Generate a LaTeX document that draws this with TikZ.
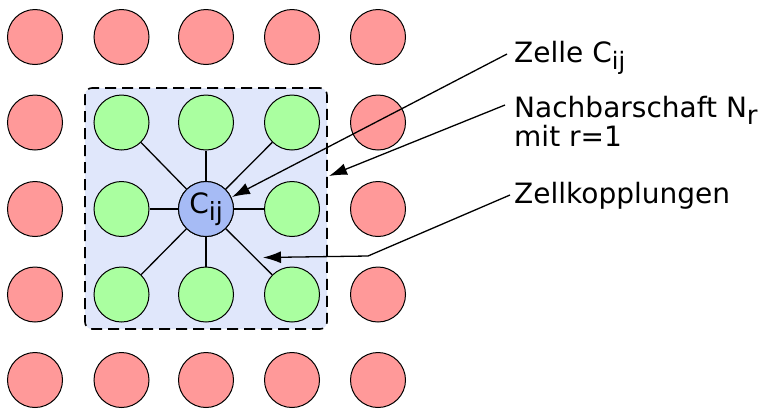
\documentclass[tikz,border=0pt]{standalone}
\usepackage{fontspec}
\setmainfont{DejaVu Sans}
\usetikzlibrary{arrows.meta}
\definecolor{cred}{HTML}{FF9999}
\definecolor{cgreen}{HTML}{AAFFA0}
\definecolor{cblue}{HTML}{A6BBF5}
\definecolor{cbox}{HTML}{E0E7FB}
\newcommand{\subtxt}[2]{\raisebox{-7pt}{\fontsize{#1}{#1}\selectfont #2}}
\begin{document}
\begin{tikzpicture}[x=1pt,y=-1pt,
  cell/.style={circle,draw=black,line width=1pt,minimum size=55pt,inner sep=0pt},
  outer/.style={cell,fill=cred},
  neigh/.style={cell,fill=cgreen},
  centre/.style={cell,fill=cblue,font=\fontsize{28}{34}\selectfont},
  nbox/.style={draw=black,fill=cbox,line width=1.6pt,dash pattern=on 11pt off 6pt,rounded corners=7pt,minimum width=242pt,minimum height=241pt,inner sep=0pt},
  coup/.style={line width=1.3pt},
  lbl/.style={anchor=base west,inner sep=0pt,font=\fontsize{28}{34}\selectfont},
  pointer/.style={line width=1.3pt,-{Latex[length=18pt,width=12pt]}}]
\useasboundingbox (0,0) rectangle (767,408);
% neighbourhood box
\node[nbox] (nbhd) at (206,208.5) {};
% cells
\foreach \cx [count=\i] in {35,121.5,206,292,378}{
  \foreach \cy [count=\j] in {37,122.5,209,294.5,380}{
    \ifnum\i>1 \ifnum\i<5 \ifnum\j>1 \ifnum\j<5
      \node[neigh] (c-\i-\j) at (\cx,\cy) {};
    \else \node[outer] (c-\i-\j) at (\cx,\cy) {}; \fi
    \else \node[outer] (c-\i-\j) at (\cx,\cy) {}; \fi
    \else \node[outer] (c-\i-\j) at (\cx,\cy) {}; \fi
    \else \node[outer] (c-\i-\j) at (\cx,\cy) {}; \fi
  }
}
\node[centre] (cij) at (206,209) {C\subtxt{25}{ij}};
% couplings
\foreach \n in {2-2,3-2,4-2,2-3,4-3,2-4,3-4,4-4}
  \draw[coup] (cij) -- (c-\n);
% labels
\node[lbl] (zelle) at (514,62) {Zelle C\subtxt{24}{ij}};
\node[lbl] (nach) at (514,117.5) {Nachbarschaft N\subtxt{26}{r}};
\node[lbl] (mit) at (514,146.5) {mit r=1};
\node[lbl] (kopp) at (514,203) {Zellkopplungen};
% pointer ends
\coordinate (zs) at (507,54);
\coordinate (zt) at (232,197);
\coordinate (ns) at (505,105);
\coordinate (nt) at (329,176);
\coordinate (ks) at (510,195);
\coordinate (kb) at (368,256);
\coordinate (kt) at (263,257.5);
\draw[pointer] (zs) -- (zt);
\draw[pointer] (ns) -- (nt);
\draw[pointer] (ks) -- (kb) -- (kt);
\end{tikzpicture}
\end{document}
